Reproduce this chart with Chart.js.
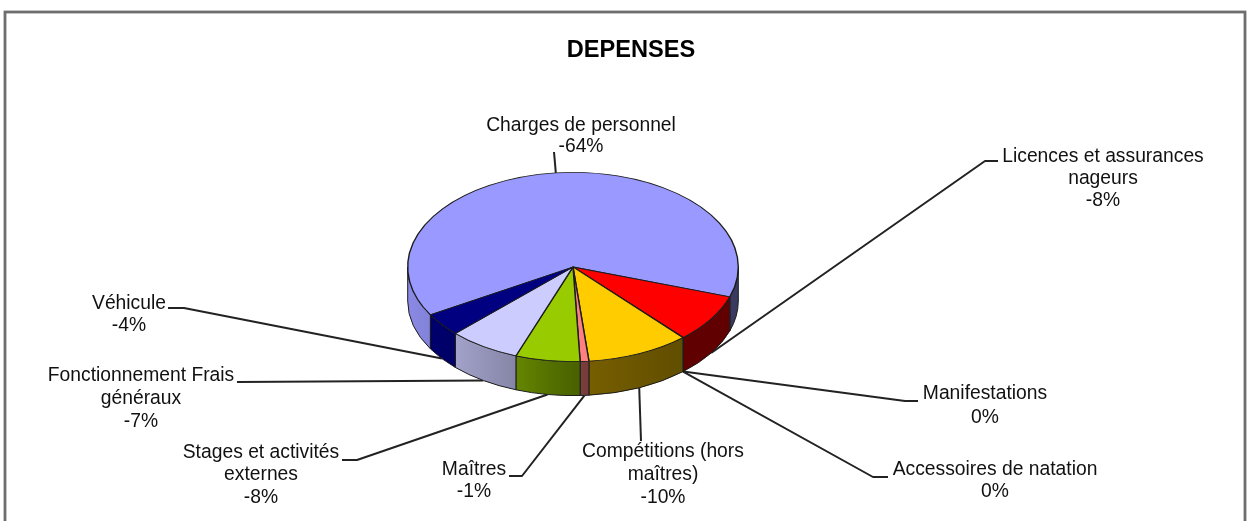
<!DOCTYPE html>
<html>
<head>
<meta charset="utf-8">
<script src="https://cdn.jsdelivr.net/npm/chart.js@4/dist/chart.umd.js"></script>
<style>
html,body{margin:0;padding:0;background:#fff;overflow:hidden}
canvas{display:block;filter:blur(0.75px)}
</style>
</head>
<body>
<canvas id="c" width="1249" height="521"></canvas>
<script>
const chartTitle = "DEPENSES";
const categories = ["Charges de personnel","Licences et assurances nageurs","Manifestations","Accessoires de natation","Compétitions (hors maîtres)","Maîtres","Stages et activités externes","Fonctionnement Frais généraux","Véhicule"];
const shownPercent = ["-64%","-8%","0%","0%","-10%","-1%","-8%","-7%","-4%"];
const sliceShare = [63.6,8.25,0.02,0.02,10.05,0.85,6.3,7.0,3.95];
const sliceColors = ["#9999ff","#ff0000","#ffff99","#00ccff","#ffcc00","#ff8080","#99cc00","#ccccff","#000080"];

// Text layout of each label: wrapped lines, centre x, first line middle y, line step, elbow of its leader
const labelLines = [["Charges de personnel"],["Licences et assurances","nageurs"],["Manifestations"],["Accessoires de natation"],["Compétitions (hors","maîtres)"],["Maîtres"],["Stages et activités","externes"],["Fonctionnement Frais","généraux"],["Véhicule"]];
const labelCentre = [[581,125.5],[1103,156.5],[985,393.5],[995,469.5],[663,451.5],[474,469.5],[261,452.5],[141,375.5],[129,303.5]];
const labelStep = [21,22,24,22,23,22,22.5,23,22];
const leaderStart = [[554,152],[998,161],[918,401],[888,477],[641,441],[509,476],[342,460],[237,382],[168,308]];
const leaderElbow = [null,[985,161],[905,401],[873,477],null,[522,476],[357,460],null,[184,308]];

const depth = 34, squash = 95/166;

function wallFactor(t){ // t: 0 at left edge, 1 at right edge
  const p=[[0,.9],[.32,.66],[.52,.47],[.83,.38],[1,.38]];
  for(let i=1;i<p.length;i++) if(t<=p[i][0]){const a=p[i-1],b=p[i];return a[1]+(b[1]-a[1])*(t-a[0])/(b[0]-a[0]);}
  return .38;
}
function shade(hex,f){
  const n=parseInt(hex.slice(1),16);
  return `rgb(${Math.round((n>>16&255)*f)},${Math.round((n>>8&255)*f)},${Math.round((n&255)*f)})`;
}

const pie3d = {
  id:'pie3d',
  beforeDraw(chart){
    const c=chart.ctx;
    c.save();
    c.fillStyle='#fff';c.fillRect(0,0,chart.width,chart.height);
    c.strokeStyle='#6e6e6e';c.lineWidth=2.8;
    c.strokeRect(5,12,1240,560);
    c.fillStyle='#000';c.textAlign='center';c.textBaseline='middle';
    c.font='bold 23.6px "Liberation Sans",Arial,sans-serif';
    c.fillText(chartTitle,631,50);
    c.font='19.3px "Liberation Sans",Arial,sans-serif';
    c.fillStyle='#111';
    categories.forEach((_,i)=>{
      const lines=labelLines[i].concat(shownPercent[i]);
      const [x,y]=labelCentre[i];
      lines.forEach((l,k)=>c.fillText(l,x,y+k*labelStep[i]));
    });
    c.restore();
  },
  beforeDatasetsDraw(chart){
    const c=chart.ctx, arcs=chart.getDatasetMeta(0).data;
    const cx=arcs[0].x, cy=arcs[0].y, r=arcs[0].outerRadius, ry=r*squash;
    c.save();
    // leaders, anchored at each slice's mid-angle on the pie edge
    c.strokeStyle='#222';c.lineWidth=2;c.lineJoin='round';
    arcs.forEach((a,i)=>{
      const m=(a.startAngle+a.endAngle)/2, s=Math.sin(m);
      const ex=cx+r*Math.cos(m), ey=cy+ry*s+(s>0?depth:0);
      c.beginPath();c.moveTo(...leaderStart[i]);
      if(leaderElbow[i]) c.lineTo(...leaderElbow[i]);
      c.lineTo(ex,ey);c.stroke();
    });
    // side wall of the front half
    c.strokeStyle='#1c1c1c';c.lineWidth=1;
    arcs.forEach((a,i)=>{
      for(let k=-2;k<=2;k++){
        const lo=Math.max(a.startAngle,2*Math.PI*k), hi=Math.min(a.endAngle,2*Math.PI*k+Math.PI);
        if(hi<=lo) continue;
        const g=c.createLinearGradient(cx-r,0,cx+r,0);
        for(let t=0;t<=1.0001;t+=.05) g.addColorStop(Math.min(t,1),shade(sliceColors[i],wallFactor(t)));
        c.beginPath();
        c.ellipse(cx,cy,r,ry,0,lo,hi,false);
        c.ellipse(cx,cy+depth,r,ry,0,hi,lo,true);
        c.closePath();
        c.fillStyle=g;c.fill();c.stroke();
      }
    });
    // squash the library's arcs into the pie's top face
    c.translate(cx,cy);c.scale(1,squash);c.translate(-cx,-cy);
  },
  afterDatasetsDraw(chart){ chart.ctx.restore(); }
};

new Chart(document.getElementById('c'),{
  type:'pie',
  data:{labels:categories,datasets:[{data:sliceShare,backgroundColor:sliceColors,borderColor:'#1c1c1c',borderWidth:1.4,borderAlign:'center'}]},
  options:{
    responsive:false,animation:false,rotation:239.6,
    layout:{padding:{left:407,right:510,top:101,bottom:88}},
    plugins:{legend:{display:false},title:{display:false},tooltip:{enabled:false}}
  },
  plugins:[pie3d]
});
</script>
</body>
</html>
